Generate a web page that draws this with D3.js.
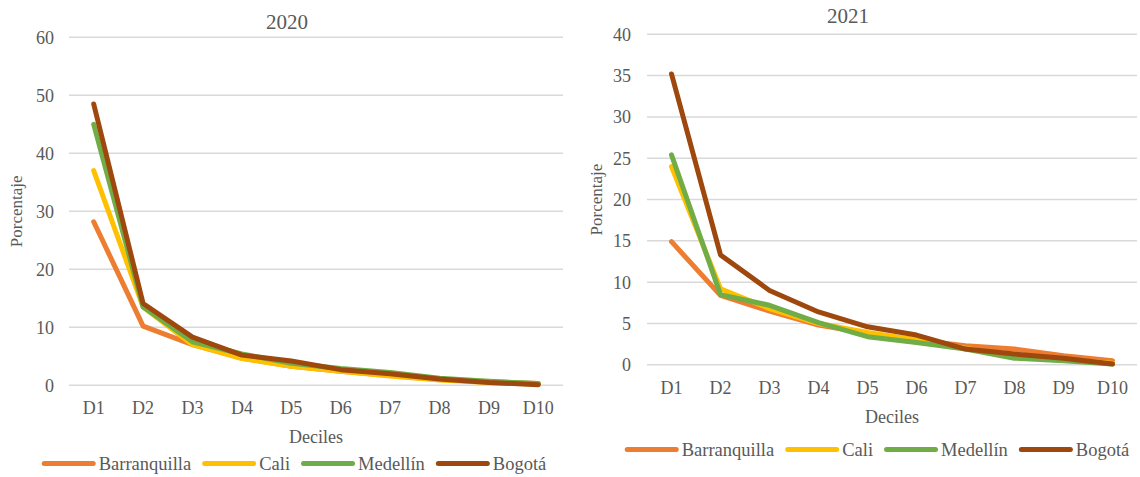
<!DOCTYPE html>
<html>
<head>
<meta charset="utf-8">
<script src="https://cdn.jsdelivr.net/npm/d3@7/dist/d3.min.js"></script>
<style>
  html, body { margin: 0; padding: 0; background: #fff; }
  svg { display: block; }
  text { font-family: "Liberation Serif", "Times New Roman", serif; fill: #595959; }
</style>
</head>
<body>
<svg id="chart" width="1140" height="477"></svg>
<script>
// Deciles on the x axis
const deciles = ["D1", "D2", "D3", "D4", "D5", "D6", "D7", "D8", "D9", "D10"];
const cities = ["Barranquilla", "Cali", "Medellín", "Bogotá"];
const cityColors = ["#ED7D31", "#FFC000", "#70AD47", "#9E480E"];

// 2020 shares (percent) by decile
const barranquilla2020 = [28.2, 10.2, 7.0, 4.7, 3.3, 2.4, 1.7, 1.0, 0.6, 0.3];
const cali2020         = [37.0, 13.5, 7.0, 4.6, 3.3, 2.4, 1.6, 0.9, 0.5, 0.2];
const medellin2020     = [45.0, 13.5, 7.5, 5.4, 3.8, 2.9, 2.2, 1.2, 0.7, 0.3];
const bogota2020       = [48.5, 14.1, 8.3, 5.2, 4.2, 2.7, 2.0, 1.1, 0.5, 0.1];

// 2021 shares (percent) by decile
const barranquilla2021 = [14.9, 8.4, 6.5, 4.8, 3.8, 3.0, 2.3, 1.9, 1.1, 0.5];
const cali2021         = [24.0, 9.2, 6.8, 5.0, 3.9, 3.0, 2.0, 1.0, 0.6, 0.2];
const medellin2021     = [25.4, 8.5, 7.2, 5.1, 3.4, 2.7, 1.9, 0.8, 0.5, 0.1];
const bogota2021       = [35.2, 13.3, 9.0, 6.4, 4.6, 3.6, 1.9, 1.3, 0.8, 0.1];

const ticks2020 = [0, 10, 20, 30, 40, 50, 60];
const ticks2021 = [0, 5, 10, 15, 20, 25, 30, 35, 40];

const svg = d3.select("#chart");

function drawPanel(cfg) {
  const g = svg.append("g");
  const x = d3.scaleBand().domain(deciles).range([cfg.left, cfg.right]);
  const y = d3.scaleLinear().domain([0, d3.max(cfg.ticks)]).range([cfg.bottom, cfg.top]);

  // horizontal gridlines
  g.append("g").selectAll("line").data(cfg.ticks).join("line")
    .attr("x1", cfg.left).attr("x2", cfg.right)
    .attr("y1", d => y(d)).attr("y2", d => y(d))
    .attr("stroke", "#d9d9d9").attr("stroke-width", 1.5);

  // y axis labels
  const yAxis = d3.axisLeft(y).tickValues(cfg.ticks).tickSize(0).tickPadding(0);
  const ya = g.append("g").attr("transform", `translate(${cfg.yLabelX},0)`).call(yAxis);
  ya.select(".domain").remove();
  ya.selectAll("text").attr("font-size", 18).attr("fill", "#595959")
    .attr("font-family", "Liberation Serif, serif").attr("dy", "0.33em");

  // x axis labels
  const xAxis = d3.axisBottom(x).tickSize(0).tickPadding(0);
  const xa = g.append("g").attr("transform", `translate(0,${cfg.xLabelY})`).call(xAxis);
  xa.select(".domain").remove();
  xa.selectAll("text").attr("font-size", 18).attr("fill", "#595959")
    .attr("font-family", "Liberation Serif, serif").attr("dy", 0);

  // series lines
  const line = d3.line()
    .x((d, i) => x(deciles[i]) + x.bandwidth() / 2)
    .y(d => y(d));
  cfg.series.forEach((vals, k) => {
    g.append("path").datum(vals)
      .attr("d", line)
      .attr("fill", "none")
      .attr("stroke", cityColors[k])
      .attr("stroke-width", 5)
      .attr("stroke-linejoin", "round")
      .attr("stroke-linecap", "round");
  });

  // title
  g.append("text").attr("x", cfg.titleX).attr("y", cfg.titleY)
    .attr("text-anchor", "middle").attr("font-size", 21).text(cfg.title);

  // axis titles
  g.append("text").attr("x", (cfg.left + cfg.right) / 2).attr("y", cfg.xTitleY)
    .attr("text-anchor", "middle").attr("font-size", 18).text("Deciles");
  g.append("text")
    .attr("transform", `translate(${cfg.yTitleX},${(cfg.top + cfg.bottom) / 2}) rotate(-90)`)
    .attr("text-anchor", "middle").attr("font-size", 17).text("Porcentaje");

  // legend
  const lg = g.append("g");
  let cx = 0;
  cities.forEach((name, k) => {
    lg.append("line").attr("x1", cx + 2.5).attr("x2", cx + 51.5)
      .attr("y1", 0).attr("y2", 0)
      .attr("stroke", cityColors[k]).attr("stroke-width", 5).attr("stroke-linecap", "round");
    const t = lg.append("text").attr("x", cx + 57).attr("y", 0).attr("dy", "0.33em")
      .attr("font-size", 18.5).text(name);
    cx += 57 + t.node().getComputedTextLength() + 11;
  });
  const total = cx - 11;
  lg.attr("transform", `translate(${cfg.legendCenter - total / 2},${cfg.legendY})`);
}

drawPanel({
  title: "2020", ticks: ticks2020,
  series: [barranquilla2020, cali2020, medellin2020, bogota2020],
  left: 69, right: 563, top: 37.3, bottom: 385.3,
  yLabelX: 54, xLabelY: 414, titleX: 287, titleY: 29,
  xTitleY: 443, yTitleX: 22, legendCenter: 294, legendY: 463.5
});

drawPanel({
  title: "2021", ticks: ticks2021,
  series: [barranquilla2021, cali2021, medellin2021, bogota2021],
  left: 647, right: 1137, top: 34.3, bottom: 364.8,
  yLabelX: 631, xLabelY: 394, titleX: 848, titleY: 23,
  xTitleY: 422.5, yTitleX: 602, legendCenter: 877, legendY: 449.5
});
</script>
</body>
</html>
